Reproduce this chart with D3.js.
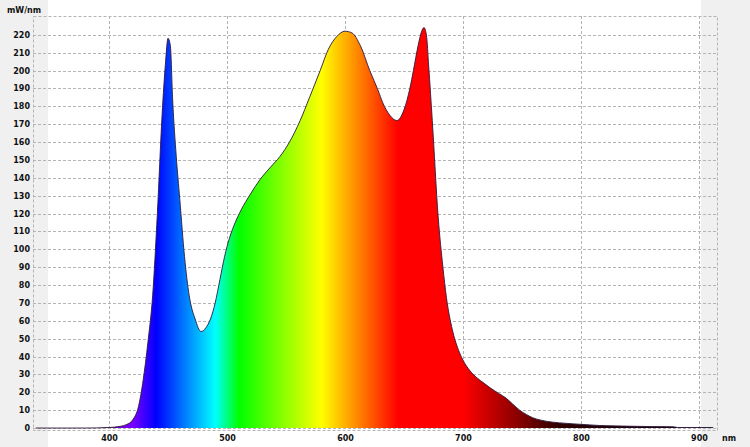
<!DOCTYPE html>
<html>
<head>
<meta charset="utf-8">
<script src="https://cdn.jsdelivr.net/npm/d3@7"></script>
<style>
  body { margin: 0; background: #f0f0f0; }
  .tick text { font-family: "DejaVu Sans", sans-serif; font-size: 8px; font-weight: bold; fill: #111; }
</style>
</head>
<body>
<svg id="chart" width="750" height="447"></svg>
<script>
// spectrum (nm -> mW/nm)
var wavelengths = [338, 380, 400, 410, 415, 420, 425, 429, 433, 437, 441, 445, 448, 450, 452, 454, 457, 460, 464, 468, 473, 478, 482, 486, 490, 494, 498, 502, 507, 512, 520, 528, 537, 545, 553, 562, 570, 579, 586, 593, 600, 606, 613, 621, 628, 632, 638, 644, 650, 655, 658, 662, 665, 667, 669, 671, 674, 679, 683, 686, 691, 696, 700, 706, 712, 718, 723, 730, 737, 742, 748, 754, 759, 766, 776, 788, 799, 816, 835, 860, 878, 882, 912];
var power = [0, 0, 0.3, 1, 2, 4.5, 12, 27, 48, 74, 120, 175, 205, 218, 214, 183, 152, 128, 96, 74, 61, 54, 56, 61, 70, 83, 96, 106, 115, 122, 131, 139, 146, 152, 160, 172, 185, 200, 212, 219, 222, 221, 214, 200, 189, 182, 175, 172, 178, 190, 200, 214, 222, 224, 220, 202, 172, 118, 90, 73, 55, 44, 38, 32, 28, 25, 22.5, 19.5, 16.5, 13.5, 10, 7.5, 5.8, 4.4, 3.3, 2.6, 2.1, 1.4, 1.1, 0.8, 0.7, 0.3, 0.3];

var xTicks = [400, 500, 600, 700, 800, 900];
var yTicks = d3.range(0, 230, 10);

// colour of light at a wavelength, used for the fill gradient
var spectrumStops = [
  [380, "#3d0066"], [405, "#6a00c8"], [420, "#7a00ff"], [440, "#0000ff"],
  [490, "#00ffff"], [510, "#00ff00"], [580, "#ffff00"], [645, "#ff0000"],
  [700, "#ff0000"], [750, "#800000"], [780, "#300000"], [820, "#200008"], [920, "#200020"]
];

var data = wavelengths.map(function(w, i) { return { nm: w, p: power[i] }; });

var svg = d3.select("#chart");

var plotLeft = 33, plotRight = 717, plotTop = 16, plotBottom = 430;

var x = d3.scaleLinear().domain([335.6, 915.3]).range([plotLeft, plotRight]);
var y = d3.scaleLinear().domain([-1.1, 230.5]).range([plotBottom, plotTop]);

// white plotting panel
svg.append("rect")
    .attr("x", 48).attr("y", 0)
    .attr("width", 653).attr("height", 447)
    .attr("fill", "#ffffff");

// grid
svg.append("g")
    .selectAll("line")
    .data(yTicks)
    .enter().append("line")
    .attr("x1", plotLeft).attr("x2", plotRight)
    .attr("y1", function(d) { return Math.round(y(d)) + 0.5; })
    .attr("y2", function(d) { return Math.round(y(d)) + 0.5; })
    .attr("stroke", "#b4b4b4")
    .attr("stroke-dasharray", "3,2");

svg.append("g")
    .selectAll("line")
    .data(xTicks)
    .enter().append("line")
    .attr("y1", plotTop).attr("y2", plotBottom)
    .attr("x1", function(d) { return Math.round(x(d)) + 0.5; })
    .attr("x2", function(d) { return Math.round(x(d)) + 0.5; })
    .attr("stroke", "#b4b4b4")
    .attr("stroke-dasharray", "3,2");

svg.append("rect")
    .attr("x", plotLeft + 0.5).attr("y", plotTop + 0.5)
    .attr("width", plotRight - plotLeft).attr("height", plotBottom - plotTop)
    .attr("fill", "none")
    .attr("stroke", "#b4b4b4")
    .attr("stroke-dasharray", "3,2");

// gradient fill
var grad = svg.append("defs").append("linearGradient")
    .attr("id", "spectrum")
    .attr("gradientUnits", "userSpaceOnUse")
    .attr("x1", x(380)).attr("x2", x(920))
    .attr("y1", 0).attr("y2", 0);

grad.selectAll("stop")
    .data(spectrumStops)
    .enter().append("stop")
    .attr("offset", function(d) { return (d[0] - 380) / (920 - 380); })
    .attr("stop-color", function(d) { return d[1]; });

var area = d3.area()
    .x(function(d) { return x(d.nm); })
    .y0(y(0))
    .y1(function(d) { return y(d.p); })
    .curve(d3.curveMonotoneX);

var line = d3.line()
    .x(function(d) { return x(d.nm); })
    .y(function(d) { return y(d.p); })
    .curve(d3.curveMonotoneX);

svg.append("path")
    .datum(data)
    .attr("d", area)
    .attr("fill", "url(#spectrum)");

svg.append("path")
    .datum(data)
    .attr("d", line)
    .attr("fill", "none")
    .attr("stroke", "#2a1a3a")
    .attr("stroke-width", 0.9);

// axes, labels only
var xAxis = d3.axisBottom(x).tickValues(xTicks).tickSize(0).tickPadding(4);
var yAxis = d3.axisLeft(y).tickValues(yTicks).tickSize(0).tickPadding(3);

svg.append("g")
    .attr("transform", "translate(0," + (plotBottom + 1) + ")")
    .call(xAxis)
    .call(function(g) { g.select(".domain").remove(); });

svg.append("g")
    .attr("transform", "translate(" + plotLeft + ",0)")
    .call(yAxis)
    .call(function(g) { g.select(".domain").remove(); });

svg.append("text")
    .attr("x", 7).attr("y", 13)
    .attr("font-family", "DejaVu Sans, sans-serif")
    .attr("font-size", "8px")
    .attr("font-weight", "bold")
    .attr("fill", "#111")
    .text("mW/nm");

svg.append("text")
    .attr("x", 722).attr("y", 441)
    .attr("font-family", "DejaVu Sans, sans-serif")
    .attr("font-size", "8px")
    .attr("font-weight", "bold")
    .attr("fill", "#111")
    .text("nm");
</script>
</body>
</html>
